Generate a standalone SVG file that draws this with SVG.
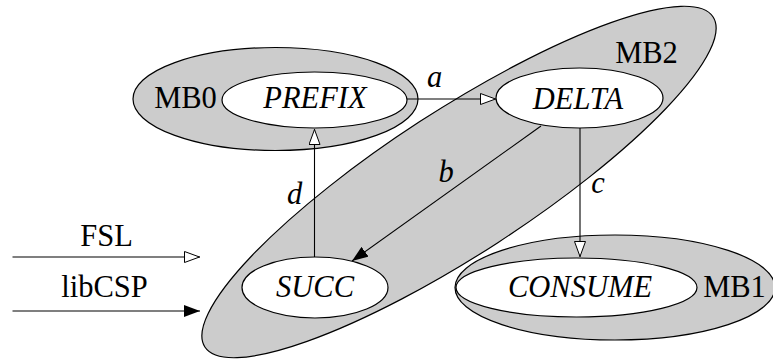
<svg xmlns="http://www.w3.org/2000/svg" width="773" height="360" viewBox="0 0 773 360">
<style>
.grp{fill:#cccccc;stroke:#000;stroke-width:1.2}
.node{fill:#fff;stroke:#000;stroke-width:1.2}
.t{font-family:"Liberation Serif","Times New Roman",serif;font-size:30.5px;fill:#000;text-anchor:middle}
.i{font-style:italic}
.edge{fill:none;stroke:#000;stroke-width:1.1}
</style>
<defs>
<marker id="hollow" viewBox="0 0 16 12" refX="16" refY="6" markerWidth="16" markerHeight="12" markerUnits="userSpaceOnUse" orient="auto">
<path d="M0.5,0.5 L15.5,6 L0.5,11.5 Z" fill="#fff" stroke="#000" stroke-width="1"/>
</marker>
<marker id="filled" viewBox="0 0 16 12" refX="16" refY="6" markerWidth="16" markerHeight="12" markerUnits="userSpaceOnUse" orient="auto">
<path d="M0,0 L16,6 L0,12 Z" fill="#000"/>
</marker>
</defs>
<g id="MB0">
<ellipse class="grp" cx="275.5" cy="99" rx="142.5" ry="51.5"/>
<text class="t" x="185.5" y="108">MB0</text>
</g>
<g id="MB1">
<ellipse class="grp" cx="615" cy="287.5" rx="160" ry="52.5"/>
<text class="t" x="734.5" y="297">MB1</text>
</g>
<g id="MB2">
<ellipse class="grp" cx="459" cy="182" rx="303" ry="72" transform="rotate(-33 459 182)"/>
<text class="t" x="646.5" y="63">MB2</text>
</g>
<g id="PREFIX">
<ellipse class="node" cx="314.5" cy="100" rx="92.5" ry="28"/>
<text class="t i" x="315" y="108">PREFIX</text>
</g>
<g id="DELTA">
<ellipse class="node" cx="579.5" cy="98" rx="83.5" ry="30"/>
<text class="t i" x="578" y="109">DELTA</text>
</g>
<g id="SUCC">
<ellipse class="node" cx="315" cy="287.5" rx="73" ry="30.5"/>
<text class="t i" x="315" y="297">SUCC</text>
</g>
<g id="CONSUME">
<ellipse class="node" cx="576.5" cy="287.5" rx="120.5" ry="29.5"/>
<text class="t i" x="580" y="297">CONSUME</text>
</g>
<g id="connectors">
<line class="edge" x1="407" y1="99" x2="496" y2="99" marker-end="url(#hollow)"/>
<text class="t i" x="434.5" y="87">a</text>
<line class="edge" x1="541" y1="126" x2="352" y2="261" marker-end="url(#filled)"/>
<text class="t i" x="446" y="182">b</text>
<line class="edge" x1="580" y1="128" x2="580" y2="257" marker-end="url(#hollow)"/>
<text class="t i" x="598" y="193">c</text>
<line class="edge" x1="314.5" y1="257" x2="314.5" y2="129" marker-end="url(#hollow)"/>
<text class="t i" x="294.5" y="204">d</text>
<line class="edge" x1="12.5" y1="257" x2="200" y2="257" marker-end="url(#hollow)"/>
<text class="t" x="106.5" y="246">FSL</text>
<line class="edge" x1="12.5" y1="311" x2="200" y2="311" marker-end="url(#filled)"/>
<text class="t" x="104.5" y="297">libCSP</text>
</g>
</svg>
